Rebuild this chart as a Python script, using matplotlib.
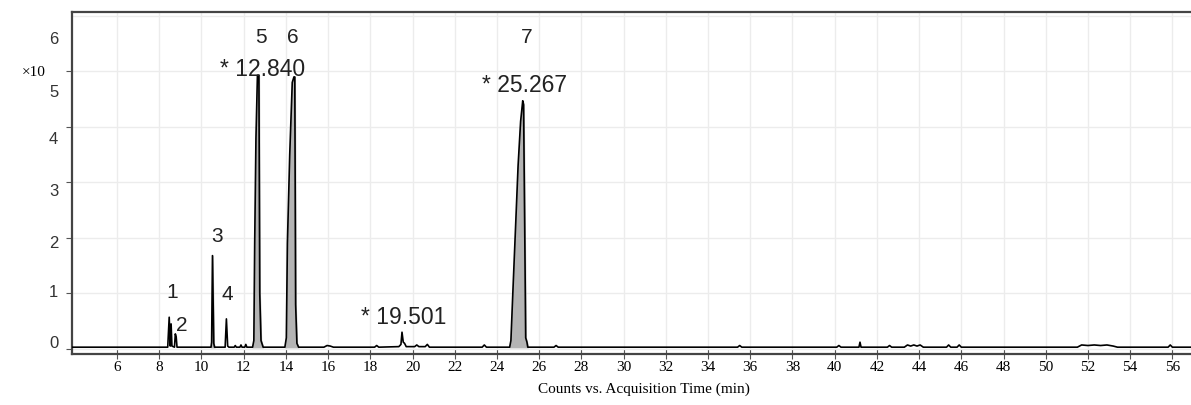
"""GC-MS total ion chromatogram, peaks 1-7."""

import matplotlib
matplotlib.use('Agg')
import matplotlib.pyplot as plt
import matplotlib.transforms as mtransforms

# Trace: retention time (min) and counts (x10^?)
times = [3.9, 8.40, 8.47, 8.52, 8.56, 8.60, 8.72, 8.76, 8.80, 8.84,
         10.45, 10.48, 10.52, 10.58, 10.62,
         11.12, 11.18, 11.24, 11.30, 11.55, 11.60, 11.65, 11.82, 11.87, 11.92,
         12.05, 12.10, 12.15,
         12.42, 12.48, 12.52, 12.58, 12.65, 12.72, 12.76, 12.82, 12.92,
         13.95, 14.02, 14.07, 14.18, 14.30, 14.38, 14.42, 14.46, 14.52, 14.60,
         15.80, 15.95, 16.10, 16.25, 18.20, 18.30, 18.40,
         19.35, 19.45, 19.50, 19.56, 19.62, 19.70, 20.10, 20.20, 20.30, 20.60, 20.70, 20.80,
         23.30, 23.40, 23.50,
         24.60, 24.66, 24.75, 24.87, 25.00, 25.12, 25.22, 25.26, 25.33, 25.36, 25.42, 25.46,
         26.70, 26.80, 26.90, 35.40, 35.50, 35.60,
         40.10, 40.20, 40.30, 41.15, 41.20, 41.25, 42.50, 42.60, 42.70,
         43.30, 43.45, 43.60, 43.75, 43.90, 44.05, 44.20, 45.30, 45.40, 45.50, 45.80, 45.90, 46.00,
         51.50, 51.70, 52.00, 52.30, 52.60, 52.90, 53.20, 53.40,
         55.80, 55.90, 56.00, 58.0]
counts = [0.03, 0.03, 0.57, 0.05, 0.45, 0.05, 0.03, 0.27, 0.22, 0.03,
          0.03, 0.12, 1.68, 0.10, 0.03,
          0.03, 0.54, 0.05, 0.03, 0.03, 0.06, 0.03, 0.03, 0.07, 0.03,
          0.03, 0.08, 0.03,
          0.03, 0.15, 1.90, 3.80, 4.93, 4.93, 1.00, 0.15, 0.03,
          0.03, 0.20, 1.90, 3.50, 4.80, 4.90, 4.90, 0.80, 0.10, 0.03,
          0.03, 0.06, 0.05, 0.03, 0.03, 0.06, 0.03,
          0.04, 0.08, 0.30, 0.12, 0.10, 0.04, 0.04, 0.07, 0.04, 0.04, 0.08, 0.03,
          0.03, 0.07, 0.03,
          0.03, 0.15, 1.00, 2.10, 3.30, 4.10, 4.47, 4.40, 1.50, 0.20, 0.12, 0.03,
          0.03, 0.06, 0.03, 0.03, 0.06, 0.03,
          0.03, 0.06, 0.03, 0.03, 0.12, 0.03, 0.03, 0.06, 0.03,
          0.03, 0.07, 0.05, 0.07, 0.05, 0.07, 0.03, 0.03, 0.07, 0.03, 0.03, 0.07, 0.03,
          0.03, 0.07, 0.06, 0.07, 0.06, 0.07, 0.05, 0.03,
          0.03, 0.07, 0.03, 0.03]

# Shaded (integrated) peaks
fill_ranges = [(12.42, 12.92), (13.95, 14.60), (24.60, 25.46), (10.45, 10.62)]

peak_numbers = ['1', '2', '3', '4', '5', '6', '7']
number_x = [8.6, 9.05, 10.75, 11.2, 12.8, 14.35, 25.4]
number_y = [1.03, 0.43, 2.04, 1.0, 5.62, 5.62, 5.62]

rt_labels = ['* 12.840', '* 25.267', '* 19.501']
rt_x = [12.9, 25.3, 19.6]
rt_y = [5.05, 4.76, 0.58]

x_ticks = list(range(6, 57, 2))
y_ticks = [0, 1, 2, 3, 4, 5, 6]
# the scanned y labels sit a little off their tick marks (pixels, down)
y_label_shift = [-8, -3, 3, 7, 10, 19, 21]

fig = plt.figure(figsize=(11.91, 4.06), dpi=100)
ax = fig.add_axes([0.0605, 0.126, 0.96, 0.842])

ax.plot(times, counts, color='black', linewidth=1.2, zorder=3)
for lo, hi in fill_ranges:
    sel = [(t, c) for t, c in zip(times, counts) if lo <= t <= hi]
    ax.fill_between([s[0] for s in sel], [s[1] for s in sel], 0.03,
                    color='#b4b4b4', zorder=2)

for lab, x, y in zip(peak_numbers, number_x, number_y):
    ax.text(x, y, lab, ha='center', va='center', fontsize=15,
            family='Liberation Sans', color='#222222')
for lab, x, y in zip(rt_labels, rt_x, rt_y):
    ax.text(x, y, lab, ha='center', va='center', fontsize=16.5,
            family='Liberation Sans', color='#222222')

ax.set_xlim(3.867, 58.04)
ax.set_ylim(-0.09, 6.07)
ax.set_xticks(x_ticks)
ax.set_yticks(y_ticks)
ax.set_xticklabels([str(t) for t in x_ticks], family='Liberation Serif', fontsize=11)
ax.set_yticklabels([str(t) for t in y_ticks], family='Liberation Sans', fontsize=12,
                   color='#333333')
ax.tick_params(axis='x', direction='inout', length=7, width=0.8, color='#555555', pad=1)
ax.tick_params(axis='y', direction='out', length=4, width=0.8, color='#555555', pad=6)

for lbl, dy in zip(ax.get_yticklabels(), y_label_shift):
    shift = mtransforms.ScaledTranslation(0, -dy / 100, fig.dpi_scale_trans)
    lbl.set_transform(lbl.get_transform() + shift)
ax.yaxis.get_major_ticks()[-1].tick1line.set_visible(False)

ax.grid(True, color='#ececec', linewidth=1.0, zorder=0)
ax.set_axisbelow(True)
for s in ax.spines.values():
    s.set_color('#444444')
    s.set_linewidth(1.6)

ax.set_xlabel('Counts vs. Acquisition Time (min)', family='Liberation Serif',
              fontsize=11, labelpad=6)
fig.text(0.0185, 0.822, '\u00d710', family='Liberation Serif', fontsize=11,
         ha='left', va='center')

plt.savefig('out.png', dpi=100)
